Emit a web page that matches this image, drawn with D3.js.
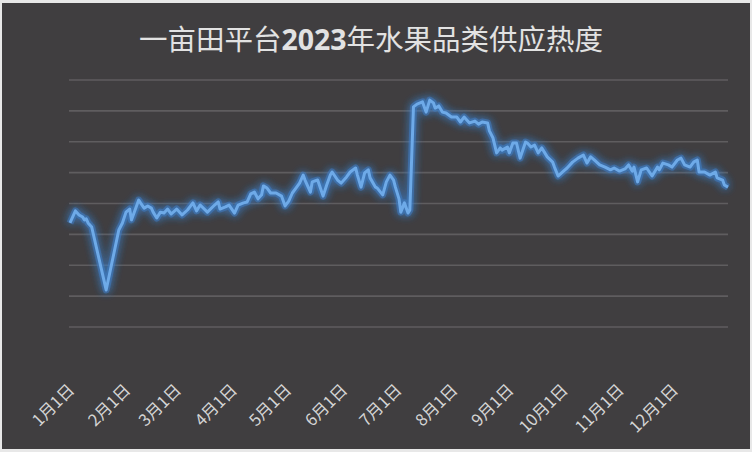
<!DOCTYPE html>
<html>
<head>
<meta charset="utf-8">
<script src="https://cdn.jsdelivr.net/npm/d3@7"></script>
<style>
  html, body { margin: 0; padding: 0; background: #e8e8e8; }
  svg { display: block; }
</style>
</head>
<body>
<svg id="chart" width="752" height="452"></svg>
<script>
// ---- data ----
const titlePre = "一亩田平台";
const titleYear = "2023";
const titlePost = "年水果品类供应热度";

const monthLabels = ["1月1日","2月1日","3月1日","4月1日","5月1日","6月1日",
                     "7月1日","8月1日","9月1日","10月1日","11月1日","12月1日"];

// day offset from 2023-01-01
const dayOfYear = [0,3,5,7,8,9,10,12,20,27,29,31,33,34,35,38,39,41,43,45,46,48,50,52,54,56,59,62,65,68,70,72,76,80,82,83,86,88,91,93,96,98,100,102,104,106,107,109,111,114,117,119,121,123,125,127,129,130,133,134,137,140,142,144,145,148,150,153,155,158,159,161,163,165,166,169,170,173,175,177,179,180,182,183,185,187,188,190,192,195,197,199,201,202,204,206,208,211,214,216,218,221,224,226,228,231,232,234,236,238,239,242,243,245,247,249,252,253,255,257,259,261,264,267,268,270,273,275,278,281,284,286,288,290,293,296,299,301,304,307,309,311,312,314,316,319,322,325,326,328,331,333,336,338,340,343,345,347,348,351,354,357,358,361,362,364];

const supplyHeat = [33.7,37.6,36.3,35.6,34.7,35.0,33.7,32.4,12.0,31.4,33.7,37.2,38.2,34.7,36.3,41.1,40.2,38.5,39.2,38.5,37.2,35.3,37.2,36.9,38.2,36.6,38.2,36.3,37.9,40.2,37.6,39.5,37.2,39.5,40.5,38.2,38.9,39.5,36.9,39.5,40.2,40.5,43.1,43.7,41.5,42.8,45.7,45.0,43.4,43.4,42.4,39.2,40.8,43.4,45.0,46.6,49.2,47.6,43.7,47.0,47.6,42.4,46.0,49.2,50.2,47.6,46.6,48.6,50.2,51.5,49.2,45.3,49.9,50.9,48.3,45.3,45.0,42.8,47.0,49.2,47.6,45.3,41.5,37.2,40.2,36.9,37.9,71.3,72.2,72.9,69.6,73.5,72.6,70.9,71.6,69.6,69.3,68.0,68.0,66.4,68.0,66.1,66.7,65.7,66.4,66.1,63.5,61.2,56.4,58.0,57.3,58.3,56.4,59.6,59.6,54.7,59.9,59.6,58.3,58.9,56.4,58.0,55.1,53.4,51.8,48.9,50.5,51.5,53.4,54.7,55.7,53.1,55.1,54.1,52.5,51.8,50.9,51.5,50.5,51.2,52.5,50.5,51.8,47.0,50.9,51.5,48.9,51.8,50.9,53.1,52.5,51.8,54.1,54.7,52.5,51.8,53.4,54.1,50.2,50.2,49.2,50.2,48.3,47.6,46.0,45.3];

const yTicks = [0,10,20,30,40,50,60,70,80];

// ---- drawing ----
const svg = d3.select("#chart");
const W = 752, H = 452;

svg.append("rect").attr("x",0).attr("y",0).attr("width",W).attr("height",H).attr("fill","#e8e8e8");
svg.append("rect").attr("x",2).attr("y",3).attr("width",W-4).attr("height",H-6).attr("fill","#403e40");

const start = new Date(2023,0,1);
const x = d3.scaleTime().domain([start, new Date(2023,11,31)]).range([70, 728]);
const y = d3.scaleLinear().domain([0, 80]).range([327, 80]);

// gridlines
svg.append("g").selectAll("line").data(yTicks).join("line")
  .attr("x1", 69).attr("x2", 728)
  .attr("y1", d => y(d)).attr("y2", d => y(d))
  .attr("stroke", "#5f5d5f").attr("stroke-width", 1.6);

// title
const title = svg.append("text")
  .attr("x", 371).attr("y", 50)
  .attr("text-anchor", "middle")
  .attr("fill", "#e2e2e2")
  .attr("font-family", "'Noto Sans CJK SC', sans-serif")
  .attr("font-size", 28.5);
title.append("tspan").text(titlePre);
title.append("tspan").attr("font-weight", "bold").attr("font-family","'Open Sans', 'Noto Sans', sans-serif").text(titleYear);
title.append("tspan").text(titlePost);

// x axis labels
const months = d3.timeMonth.range(start, new Date(2023,11,2));
const xAxis = d3.axisBottom(x).tickValues(months).tickFormat((d,i) => monthLabels[i]).tickSize(0);
const gx = svg.append("g").call(xAxis);
gx.select(".domain").remove();
gx.selectAll(".tick text")
  .attr("fill", "#d4d4d4")
  .attr("font-family", "'Noto Sans CJK SC', sans-serif")
  .attr("font-size", 16.5)
  .attr("text-anchor", "end")
  .attr("y", 0).attr("dy", 0)
  .attr("transform", "translate(5,391) rotate(-45)");

// glow filter
const defs = svg.append("defs");
const f = defs.append("filter").attr("id","glow").attr("x","-10%").attr("y","-20%").attr("width","120%").attr("height","140%");
f.append("feGaussianBlur").attr("in","SourceGraphic").attr("stdDeviation",4).attr("result","blur");
const m = f.append("feMerge");
m.append("feMergeNode").attr("in","blur");
m.append("feMergeNode").attr("in","blur");
m.append("feMergeNode").attr("in","SourceGraphic");

const pts = dayOfYear.map((d,i) => ({date: d3.timeDay.offset(start, d), v: supplyHeat[i]}));
const line = d3.line().x(d => x(d.date)).y(d => y(d.v));

svg.append("path").datum(pts)
  .attr("d", line)
  .attr("fill","none")
  .attr("stroke","#3d7fc9")
  .attr("stroke-width",7)
  .attr("stroke-opacity",0.5)
  .attr("stroke-linejoin","round")
  .attr("filter","url(#glow)");

svg.append("path").datum(pts)
  .attr("d", line)
  .attr("fill","none")
  .attr("stroke","#6eaae8")
  .attr("stroke-width",3)
  .attr("stroke-linejoin","round");
</script>
</body>
</html>
